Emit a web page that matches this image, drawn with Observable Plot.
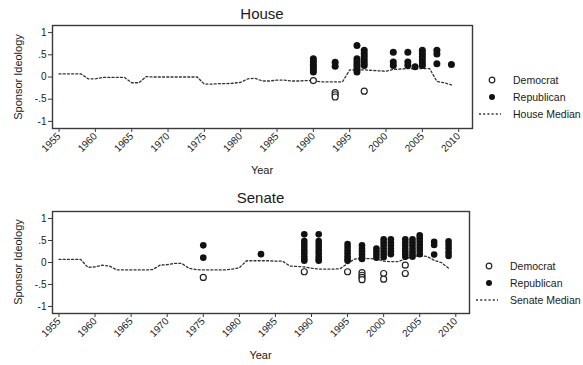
<!DOCTYPE html>
<html>
<head>
<meta charset="utf-8">
<script src="https://cdn.jsdelivr.net/npm/d3@7"></script>
<script src="https://cdn.jsdelivr.net/npm/@observablehq/plot@0.6"></script>
<style>
  html, body { margin: 0; padding: 0; background: #fff; }
  #wrap { position: relative; width: 583px; height: 365px; overflow: hidden; background: #fff;
          font-family: "Liberation Sans", Arial, Helvetica, sans-serif; color: #1a1a1a; }
  .title { position: absolute; width: 200px; text-align: center; font-size: 15px; line-height: 18px; }
  .ylab { position: absolute; font-size: 11px; line-height: 13px; white-space: nowrap;
          transform: translate(-50%, -50%) rotate(-90deg); }
  .xlab { position: absolute; font-size: 11px; line-height: 13px; transform: translate(-50%, -50%); }
  .panel { position: absolute; left: 0; }
  .legend { position: absolute; font-size: 10.5px; }
  .legend .item { position: absolute; left: 0; height: 14px; white-space: nowrap; }
  .legend svg { position: absolute; top: 0; }
  .legend span { position: absolute; top: 0; line-height: 14px; }
</style>
</head>
<body>
<div id="wrap"></div>
<script>
// ---------- Data ----------
const xTicks = [1955, 1960, 1965, 1970, 1975, 1980, 1985, 1990, 1995, 2000, 2005, 2010];
const yTicks = [-1, -0.5, 0, 0.5, 1];
const yTickLabels = ["-1", "-.5", "0", ".5", "1"];
const legendLabels = ["Democrat", "Republican"];

const medianYears = [1955,1956,1957,1958,1959,1960,1961,1962,1963,1964,1965,1966,1967,1968,1969,1970,
  1971,1972,1973,1974,1975,1976,1977,1978,1979,1980,1981,1982,1983,1984,1985,1986,1987,1988,1989,1990,
  1991,1992,1993,1994,1995,1996,1997,1998,1999,2000,2001,2002,2003,2004,2005,2006,2007,2008,2009];

const houseMedian = [0.07,0.07,0.07,0.07,-0.04,-0.04,-0.01,-0.01,-0.01,-0.01,-0.13,-0.13,0.01,0.0,0.0,0.0,
  0.0,0.0,0.0,0.0,-0.16,-0.16,-0.15,-0.15,-0.14,-0.12,-0.04,-0.03,-0.09,-0.09,-0.07,-0.07,-0.09,-0.09,-0.08,-0.08,
  -0.11,-0.11,-0.11,-0.11,0.16,0.16,0.16,0.15,0.14,0.13,0.17,0.18,0.19,0.19,0.19,0.19,-0.10,-0.13,-0.18];

const senateMedian = [0.07,0.07,0.07,0.07,-0.11,-0.10,-0.06,-0.08,-0.17,-0.17,-0.17,-0.17,-0.17,-0.16,-0.06,-0.05,
  -0.02,-0.02,-0.13,-0.16,-0.17,-0.17,-0.17,-0.17,-0.15,-0.12,0.04,0.04,0.04,0.04,0.03,0.03,-0.08,-0.09,-0.10,-0.13,
  -0.15,-0.15,-0.15,-0.14,-0.02,0.08,0.09,0.09,0.08,0.03,0.02,0.02,0.08,0.14,0.15,0.14,0.05,0.0,-0.13];

// Sponsors: [year, [ideology scores]]
const houseRepublican = [
  [1990, [0.41,0.35,0.29,0.23,0.17,0.11]],
  [1993, [0.33,0.24]],
  [1996, [0.71,0.41,0.35,0.29,0.23,0.17,0.11]],
  [1997, [0.60,0.53,0.46,0.39,0.32,0.26]],
  [2001, [0.56,0.34,0.26]],
  [2003, [0.56,0.34,0.26]],
  [2004, [0.23]],
  [2005, [0.60,0.53,0.46,0.39,0.32,0.26]],
  [2007, [0.60,0.52,0.30]],
  [2009, [0.28]]
];
const houseDemocrat = [
  [1990, [-0.08]],
  [1993, [-0.35,-0.40,-0.45]],
  [1997, [-0.32]]
];
const senateRepublican = [
  [1975, [0.39,0.11]],
  [1983, [0.19]],
  [1989, [0.64,0.49,0.42,0.35,0.28,0.21,0.14,0.08,0.04]],
  [1991, [0.64,0.49,0.42,0.35,0.28,0.21,0.14,0.08,0.04]],
  [1995, [0.42,0.35,0.28,0.21,0.14,0.08,0.04]],
  [1997, [0.39,0.32,0.25,0.18,0.12,0.08]],
  [1999, [0.32,0.25,0.18,0.11]],
  [2000, [0.53,0.46,0.39,0.32,0.25,0.18,0.12]],
  [2001, [0.53,0.46,0.39,0.32,0.25,0.19]],
  [2003, [0.53,0.46,0.39,0.32,0.25,0.19,0.13]],
  [2004, [0.53,0.46,0.39,0.32,0.25,0.19,0.13]],
  [2005, [0.62,0.55,0.48,0.41,0.34,0.27,0.19]],
  [2007, [0.47,0.40,0.18]],
  [2009, [0.48,0.40,0.32,0.23,0.15]]
];
const senateDemocrat = [
  [1975, [-0.34]],
  [1989, [-0.21]],
  [1995, [-0.21]],
  [1997, [-0.23,-0.29,-0.34,-0.39]],
  [2000, [-0.25,-0.38]],
  [2003, [-0.06,-0.25]]
];

// ---------- Helpers ----------
const flat = groups => groups.flatMap(([year, vals]) => vals.map(v => ({year, v})));
const medianRows = vals => medianYears.map((year, i) => ({year, v: vals[i]}));
const wrap = document.getElementById("wrap");

function addDiv(cls, text, style) {
  const d = document.createElement("div");
  d.className = cls;
  d.textContent = text;
  Object.assign(d.style, style);
  wrap.appendChild(d);
  return d;
}

function panel({title, titleTop, top, height, marginTop, marginBottom, marginRight, median, rep, dem,
                medianLabel, legendLeft, legendTop, repR}) {
  const marginLeft = 52;
  const chart = Plot.plot({
    width: 583, height, marginTop, marginBottom, marginLeft, marginRight,
    x: {domain: [1954.1, 2011.9]},
    y: {domain: [-1.16, 1.16]},
    style: {fontFamily: "'Liberation Sans', Arial, sans-serif", fontSize: "10px", color: "#1a1a1a", background: "transparent", overflow: "visible"},
    marks: [
      Plot.frame({stroke: "#3a3a3a", strokeWidth: 1.4}),
      Plot.axisY({ticks: yTicks, tickFormat: d => yTickLabels[yTicks.indexOf(d)], tickSize: 4, tickPadding: 2, label: null, stroke: "#3a3a3a"}),
      Plot.axisX({ticks: xTicks, tickFormat: d => String(d), tickRotate: -45, tickSize: 4, tickPadding: 2, label: null, stroke: "#3a3a3a"}),
      Plot.line(medianRows(median), {x: "year", y: "v", stroke: "#333", strokeWidth: 1.3, strokeDasharray: "2,2.2"}),
      Plot.dot(flat(dem), {x: "year", y: "v", r: 3, stroke: "#222", strokeWidth: 1.2, fill: "white"}),
      Plot.dot(flat(rep), {x: "year", y: "v", r: repR, fill: "#111", stroke: "none"})
    ]
  });
  chart.classList.add("panel");
  chart.style.top = top + "px";
  wrap.appendChild(chart);

  const frameRight = 583 - marginRight;
  const cx = (marginLeft + frameRight) / 2;
  const frameTop = top + marginTop, frameBottom = top + height - marginBottom;
  addDiv("title", title, {left: (cx - 100) + "px", top: titleTop + "px"});
  addDiv("ylab", "Sponsor Ideology", {left: "18px", top: ((frameTop + frameBottom) / 2) + "px"});
  addDiv("xlab", "Year", {left: cx + "px", top: (frameBottom + 42) + "px"});

  // legend
  const lg = document.createElement("div");
  lg.className = "legend";
  lg.style.left = legendLeft + "px";
  lg.style.top = legendTop + "px";
  const items = [
    {label: legendLabels[0], sym: `<circle cx="13" cy="7" r="2.8" fill="white" stroke="#222" stroke-width="1.2"/>`},
    {label: legendLabels[1], sym: `<circle cx="13" cy="7" r="3" fill="#111"/>`},
    {label: medianLabel, sym: `<line x1="0" x2="22" y1="7" y2="7" stroke="#333" stroke-width="1.3" stroke-dasharray="2,2.2"/>`}
  ];
  items.forEach((it, i) => {
    const d = document.createElement("div");
    d.className = "item";
    d.style.top = (i * 17) + "px";
    d.innerHTML = `<svg width="26" height="14" style="left:0">${it.sym}</svg><span style="left:34px">${it.label}</span>`;
    lg.appendChild(d);
  });
  wrap.appendChild(lg);
}

panel({title: "House", titleTop: 5, top: 20, height: 162, marginTop: 5, marginBottom: 54, marginRight: 111,
       median: houseMedian, rep: houseRepublican, dem: houseDemocrat, medianLabel: "House Median",
       legendLeft: 479, legendTop: 73, repR: 3.5});
panel({title: "Senate", titleTop: 189, top: 205, height: 160, marginTop: 6, marginBottom: 52, marginRight: 114,
       median: senateMedian, rep: senateRepublican, dem: senateDemocrat, medianLabel: "Senate Median",
       legendLeft: 476, legendTop: 259, repR: 3.3});
</script>
</body>
</html>
